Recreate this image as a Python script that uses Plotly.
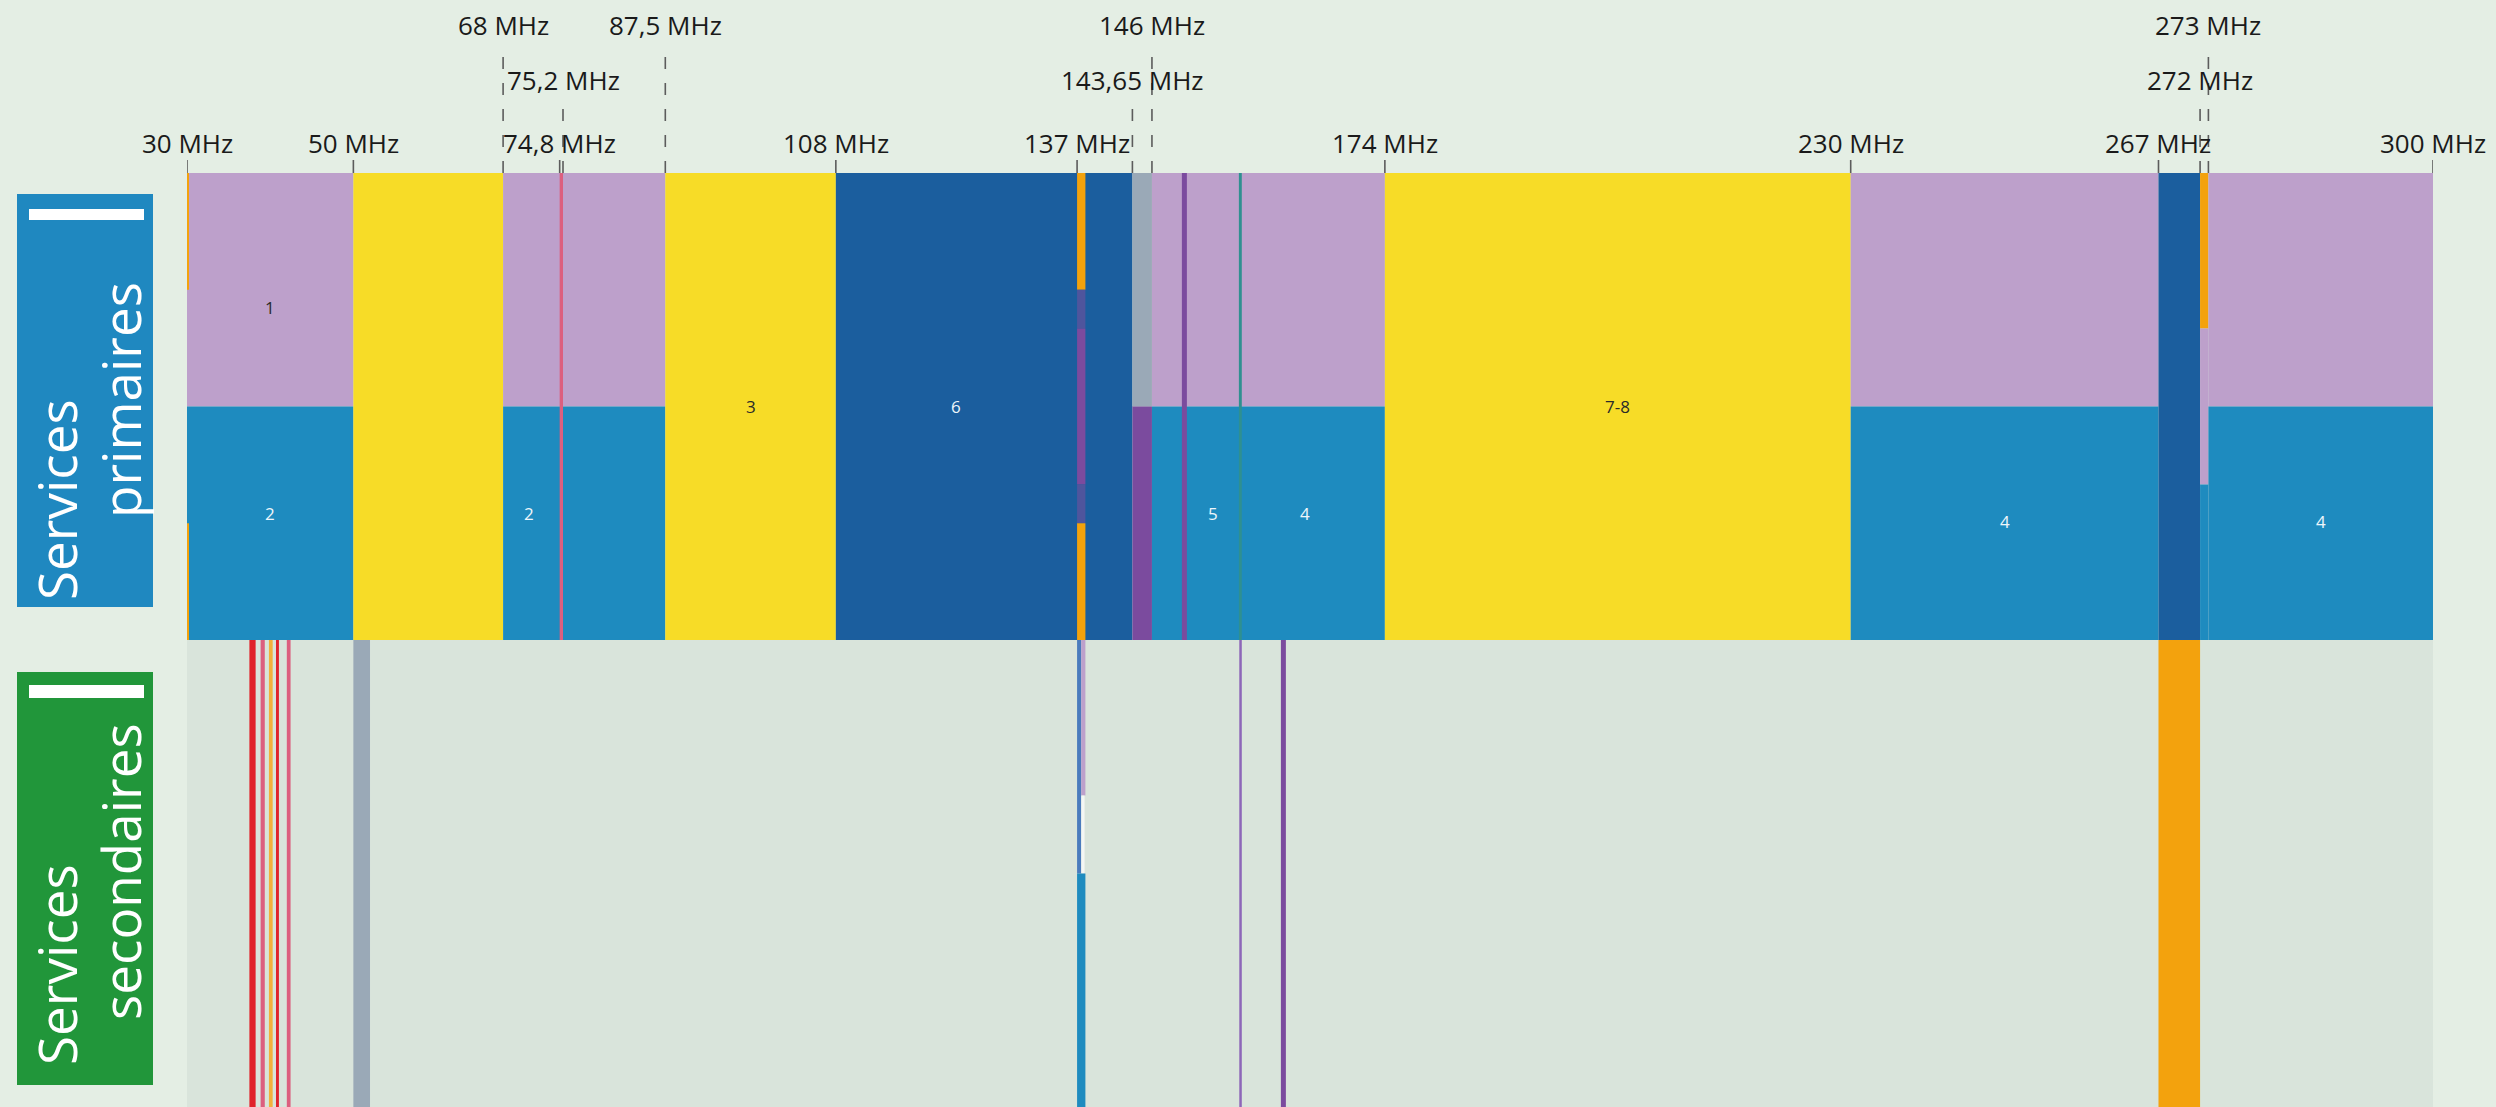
import plotly.graph_objects as go

# ---------------- data ----------------
# Primary services strip: frequency span (MHz) and share of the strip (0 = bottom, 1 = top)
prim_start = [30, 30, 30, 30, 50, 68, 68, 74.8, 87.5, 108, 137, 137, 137, 137, 137,
              143.65, 143.65, 146, 146, 149.6, 156.45, 174, 230, 230, 267, 272, 272, 272,
              273, 273]
prim_end = [50, 50, 30.2, 30.2, 68, 87.5, 87.5, 75.2, 108, 143.65, 138, 138, 138, 138, 138,
            146, 146, 174, 174, 150.2, 156.8, 230, 267, 267, 272, 273, 273, 273, 300, 300]
prim_low = [0.5, 0, 0.75, 0, 0, 0.5, 0, 0, 0, 0, 0.75, 0.667, 0.333, 0.25, 0,
            0.5, 0, 0.5, 0, 0, 0, 0, 0.5, 0, 0, 0.667, 0.333, 0, 0.5, 0]
prim_high = [1, 0.5, 1, 0.25, 1, 1, 0.5, 1, 1, 1, 1, 0.75, 0.667, 0.333, 0.25,
             1, 0.5, 1, 0.5, 1, 1, 1, 1, 0.5, 1, 1, 0.667, 0.333, 1, 0.5]
prim_service = ["fixe", "mobile", "spatial", "spatial", "radiodiffusion", "fixe", "mobile",
                "radionav", "radiodiffusion", "aero", "spatial", "meteo_c", "meteo",
                "meteo_c", "spatial", "amateur", "meteo", "fixe", "mobile", "meteo",
                "maritime", "radiodiffusion", "fixe", "mobile", "aero", "spatial", "fixe",
                "mobile", "fixe", "mobile"]

# Secondary services strip
sec_start = [37.5, 38.85, 39.85, 40.7, 42.0, 50, 137, 137.5, 137.5, 137, 156.5, 161.5, 267]
sec_end = [38.25, 39.35, 40.3, 41.05, 42.45, 52, 137.5, 138, 137.9, 138, 156.8, 162.1, 272]
sec_low = [0, 0, 0, 0, 0, 0, 0.5, 0.667, 0.5, 0, 0, 0, 0]
sec_high = [1, 1, 1, 1, 1, 1, 1, 1, 0.667, 0.5, 1, 1, 1]
sec_service = ["radioastro", "radionav", "spatial_b", "radioastro", "radionav", "amateur",
               "aero_b", "fixe", "vide", "mobile", "meteo_b", "meteo", "spatial"]

# Numbers written inside the bands
label_text = ["1", "2", "2", "3", "6", "5", "4", "7-8", "4", "4"]
label_freq = [40, 40, 71.1, 97.75, 122.5, 153.3, 164.4, 202, 248.5, 286.5]
label_level = [1.713, 1.27, 1.27, 1.5, 1.5, 1.27, 1.27, 1.5, 1.253, 1.253]

# Frequency markers above the strip
tick_freq = [30, 50, 68, 74.8, 75.2, 87.5, 108, 137, 143.65, 146, 174, 230, 267, 272, 273, 300]
tick_text = ["30 MHz", "50 MHz", "68 MHz", "74,8 MHz", "75,2 MHz", "87,5 MHz", "108 MHz",
             "137 MHz", "143,65 MHz", "146 MHz", "174 MHz", "230 MHz", "267 MHz",
             "272 MHz", "273 MHz", "300 MHz"]
tick_tier = [1, 1, 3, 1, 2, 3, 1, 1, 2, 3, 1, 1, 1, 2, 3, 1]

# ---------------- style ----------------
W, H = 2496, 1107
ML, MR, MT, MB = 187, 63, 173, 0
PAGE_BG = "#e4eee4"


def pxx(px):
    return (px - ML) / (W - ML - MR)


def pxy(py):
    return (H - MB - py) / (H - MT - MB)


colors = {
    "fixe": "#bda0cb",
    "mobile": "#1e8bbf",
    "radiodiffusion": "#f7dc27",
    "aero": "#1b5e9e",
    "aero_b": "#4a7bbd",
    "spatial": "#f3a20d",
    "spatial_b": "#f2b23c",
    "meteo": "#7b4b9e",
    "meteo_b": "#8d66b8",
    "meteo_c": "#4f559d",
    "amateur": "#9aa9b7",
    "radionav": "#dc5f7f",
    "maritime": "#2f9090",
    "radioastro": "#e0232b",
    "vide": "#f4f6f4",
}

fig = go.Figure()


def add_bars(start, end, low, high, service, offset):
    fig.add_trace(go.Bar(
        x=[(a + b) / 2 for a, b in zip(start, end)],
        width=[b - a for a, b in zip(start, end)],
        base=[offset + lo for lo in low],
        y=[hi - lo for lo, hi in zip(low, high)],
        marker=dict(color=[colors[s] for s in service], line=dict(width=0)),
        hovertext=[f"{s}: {a}–{b} MHz" for s, a, b in zip(service, start, end)],
        hoverinfo="text",
        showlegend=False,
    ))


add_bars(prim_start, prim_end, prim_low, prim_high, prim_service, 1)
add_bars(sec_start, sec_end, sec_low, sec_high, sec_service, 0)

annotations = []
for t, f, lv in zip(label_text, label_freq, label_level):
    dark = t in ("1", "3", "7-8")
    annotations.append(dict(
        x=f, y=lv, xref="x", yref="y", text=t, showarrow=False,
        font=dict(family="Open Sans", size=17, color="#2a2a2a" if dark else "#eef6fb"),
    ))

tier_label_y = {1: pxy(143), 2: pxy(80), 3: pxy(25)}
tier_tick_top = {1: pxy(160), 2: pxy(104), 3: pxy(48)}
shapes = []
for f, t, tier in zip(tick_freq, tick_text, tick_tier):
    annotations.append(dict(
        x=f, y=tier_label_y[tier], xref="x", yref="paper", text=t, showarrow=False,
        xanchor="center", yanchor="middle",
        font=dict(family="Open Sans", size=26, color="#1a1a1a"),
    ))
    shapes.append(dict(
        type="line", xref="x", yref="paper", x0=f, x1=f, y0=1.0, y1=tier_tick_top[tier],
        line=dict(color="#5c5c5c", width=1.6, dash="solid" if tier == 1 else "12px,14px"),
    ))

# side boxes
boxes = [
    (17, 153, 194, 607, "#1f88c0", 209, 220),
    (17, 153, 672, 1085, "#21963a", 685, 698),
]
for x0, x1, y0, y1, col, b0, b1 in boxes:
    shapes.append(dict(type="rect", xref="paper", yref="paper",
                       x0=pxx(x0), x1=pxx(x1), y0=pxy(y1), y1=pxy(y0),
                       fillcolor=col, line=dict(width=0), layer="above"))
    shapes.append(dict(type="rect", xref="paper", yref="paper",
                       x0=pxx(29), x1=pxx(144), y0=pxy(b1), y1=pxy(b0),
                       fillcolor="white", line=dict(width=0), layer="above"))

side_text = [("Services", 56, 500), ("primaires", 121, 400),
             ("Services", 56, 965), ("secondaires", 120, 872)]
for t, x, y in side_text:
    annotations.append(dict(
        x=pxx(x), y=pxy(y), xref="paper", yref="paper", text=t, showarrow=False,
        textangle=-90, xanchor="center", yanchor="middle",
        font=dict(family="Open Sans", size=53, color="white"),
    ))

fig.update_layout(
    width=W, height=H, autosize=False,
    margin=dict(l=ML, r=MR, t=MT, b=MB, pad=0),
    paper_bgcolor=PAGE_BG,
    plot_bgcolor="#d9e4db",
    barmode="overlay",
    xaxis=dict(range=[30, 300], visible=False, fixedrange=True),
    yaxis=dict(range=[0, 2], visible=False, fixedrange=True),
    annotations=annotations,
    shapes=shapes,
    showlegend=False,
)

fig.write_html(
    "out.html",
    config={"displayModeBar": False},
    post_script="document.body.style.margin='0';document.body.style.overflow='hidden';"
                "document.body.style.background='" + PAGE_BG + "';",
)
